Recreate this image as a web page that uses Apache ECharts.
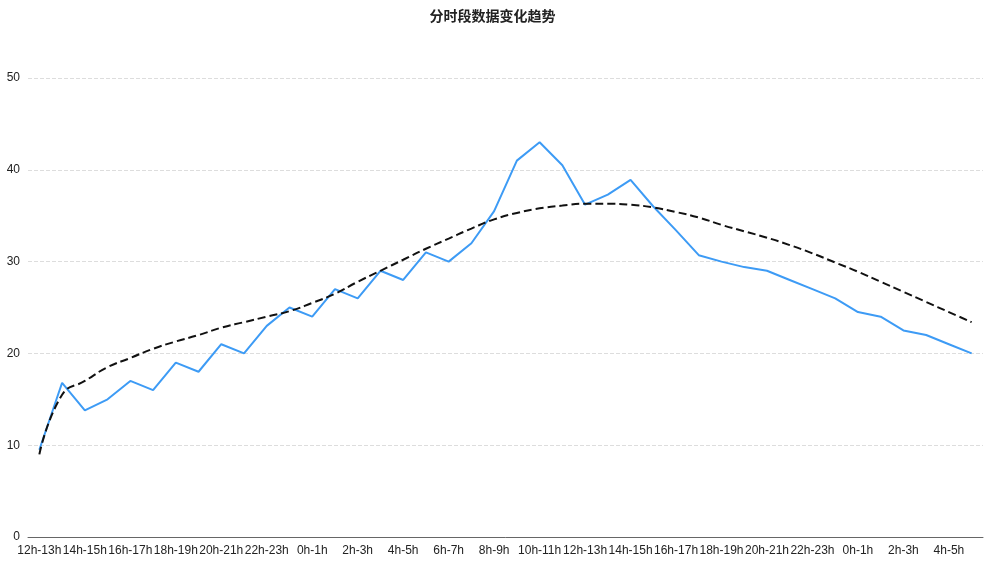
<!DOCTYPE html>
<html>
<head>
<meta charset="utf-8">
<title>chart</title>
<script src="https://cdn.jsdelivr.net/npm/echarts@6/dist/echarts.min.js"></script>
<style>
    html, body {margin: 0; padding: 0; background: #fff;}
    #box {width: 985px; height: 568px;}
</style>
</head>
<body>
<div id="box"></div>
<script>
// 时段（每小时）
var hours = [];
var startHour = 12;
for (var k = 0; k < 42; k++) {
    var h = (startHour + k) % 24;
    hours.push(h + 'h-' + (h + 1) + 'h');
}

// 实际值（蓝线）
var actual = [9.5, 16.8, 13.8, 15, 17, 16, 19, 18, 21, 20,
    23, 25, 24, 27, 26, 29, 28, 31, 30, 32,
    35.5, 41, 43, 40.5, 36.2, 37.3, 38.9, 36, 33.4, 30.7,
    30, 29.4, 29, 28, 27, 26, 24.5, 24, 22.5, 22,
    21, 20];

// 趋势（黑色虚线）
var trend = [9, 15.5, 17, 18.5, 19.5, 20.5, 21.3, 22, 22.8, 23.4,
    24, 24.6, 25.5, 26.5, 27.8, 29, 30.2, 31.4, 32.5, 33.6,
    34.6, 35.3, 35.8, 36.1, 36.3, 36.3, 36.2, 35.9, 35.4, 34.8,
    34, 33.3, 32.6, 31.8, 30.9, 29.9, 28.9, 27.8, 26.7, 25.6,
    24.5, 23.4];

var yTicks = {min: 0, max: 50, interval: 10};

var myChart = echarts.init(document.getElementById('box'));
var option = {
    animation: false,
    title: {
        text: '分时段数据变化趋势',
        left: 'center',
        top: 4,
        textStyle: {fontSize: 14, fontWeight: 'bold', color: '#222', fontFamily: 'Noto Sans CJK SC'}
    },
    grid: {left: 28, right: 2, top: 78, bottom: 31},
    xAxis: {
        type: 'category',
        data: hours,
        axisLine: {lineStyle: {color: '#666'}},
        axisTick: {show: false},
        axisLabel: {interval: 1, color: '#222', fontSize: 12}
    },
    yAxis: {
        type: 'value',
        min: yTicks.min,
        max: yTicks.max,
        interval: yTicks.interval,
        axisLabel: {color: '#222', fontSize: 12},
        splitLine: {lineStyle: {type: 'dashed', color: '#ddd'}}
    },
    series: [
        {
            name: '实际',
            type: 'line',
            data: actual,
            showSymbol: false,
            lineStyle: {color: '#3d9bf5', width: 2},
            itemStyle: {color: '#3d9bf5'}
        },
        {
            name: '趋势',
            type: 'line',
            data: trend,
            smooth: true,
            showSymbol: false,
            lineStyle: {color: '#111', width: 2, type: 'dashed'},
            itemStyle: {color: '#111'}
        }
    ]
};
myChart.setOption(option);
</script>
</body>
</html>
